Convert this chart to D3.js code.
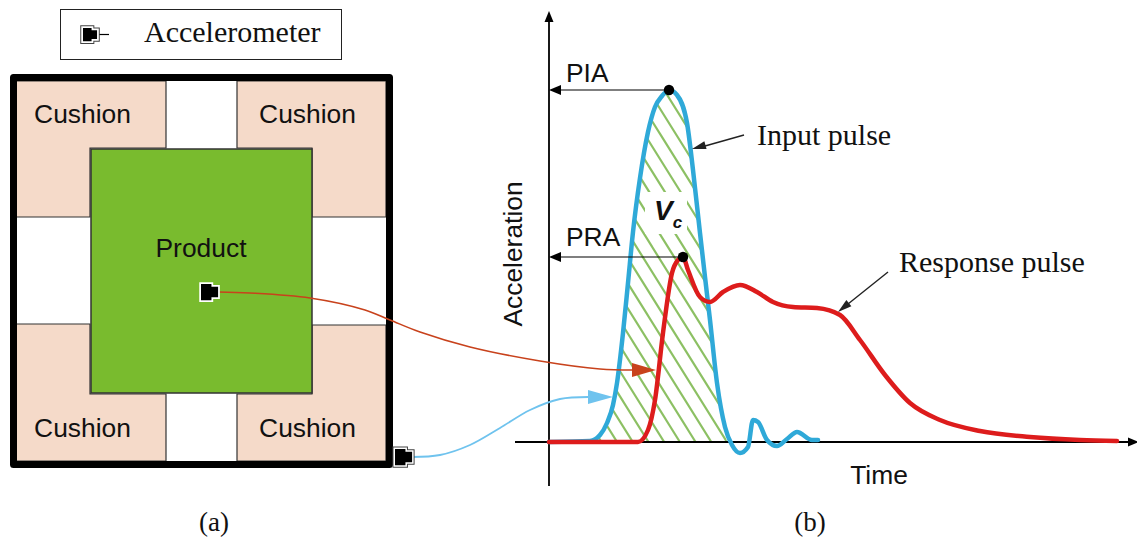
<!DOCTYPE html>
<html>
<head>
<meta charset="utf-8">
<script src="https://cdn.jsdelivr.net/npm/d3@7"></script>
<style>
  html, body { margin: 0; padding: 0; background: #fff; }
  svg { display: block; }
</style>
</head>
<body>
<div id="chart"></div>
<script>
// pulse curves (arbitrary units)
var inputTime = [0, 41, 51, 58, 64, 68, 74, 79, 84, 91, 99, 106, 113, 120, 128, 138, 144, 151, 156, 161, 168, 176, 183, 191, 199, 204, 209, 218, 228, 238, 248, 263, 269];
var inputAccel = [0, 1, 7, 19, 37, 59, 109, 159, 210, 264, 310, 335, 346, 352, 347, 319, 272, 209, 165, 122, 59, 15, -3, -11, -5, 22, 20, 2, -4, 3, 10, 2, 2];
var responseTime = [0, 89, 99, 106, 114, 123, 129, 134, 139, 151, 161, 174, 191, 208, 224, 244, 268, 291, 311, 336, 361, 391, 431, 481, 531, 568];
var responseAccel = [0, 0, 12, 42, 109, 169, 182, 185, 172, 145, 140, 150, 157, 150, 140, 135, 134, 127, 102, 67, 39, 22, 11, 5, 2, 1];

var peakInput = [120, 352];
var peakResponse = [134, 185];

var cushionLabels = ["Cushion", "Cushion", "Cushion", "Cushion"];

var width = 1137, height = 540;
var sans = "'Liberation Sans', Arial, sans-serif";
var serif = "'Liberation Serif', 'Times New Roman', serif";

var svg = d3.select("#chart").append("svg")
    .attr("width", width)
    .attr("height", height)
    .style("font-family", sans);

// scales for panel (b)
var x = d3.scaleLinear().domain([0, 568]).range([549, 1117]);
var y = d3.scaleLinear().domain([0, 352]).range([442, 90]);

var lineGen = d3.line()
    .x(function (d) { return x(d[0]); })
    .y(function (d) { return y(d[1]); })
    .curve(d3.curveMonotoneX);

var inputPts = d3.zip(inputTime, inputAccel);
var responsePts = d3.zip(responseTime, responseAccel);

function arrowHead(g, tipX, tipY, angle, len, wid, color) {
    g.append("path")
        .attr("d", "M0,0L" + (-len) + "," + (-wid / 2) + "L" + (-len) + "," + (wid / 2) + "Z")
        .attr("transform", "translate(" + tipX + "," + tipY + ") rotate(" + angle + ")")
        .attr("fill", color);
}

// accelerometer icon, (px,py) is its top left corner
function sensor(g, px, py, s, halo, outline) {
    var shape = "M0,0H" + (11 * s) + "V" + (3 * s) + "H" + (18 * s) + "V" + (14 * s) + "H" + (11 * s) + "V" + (17 * s) + "H0Z";
    var n = g.append("g").attr("transform", "translate(" + px + "," + py + ")");
    if (outline) {
        n.append("path").attr("d", shape).attr("fill", "none")
            .attr("stroke", "#444").attr("stroke-width", halo + 2).attr("stroke-linejoin", "miter");
    }
    n.append("path").attr("d", shape).attr("fill", "#000")
        .attr("stroke", "#fff").attr("stroke-width", halo).attr("paint-order", "stroke").attr("stroke-linejoin", "miter");
    return n;
}

// ---- legend box
svg.append("rect").attr("x", 60.5).attr("y", 9.5).attr("width", 281).attr("height", 50)
    .attr("fill", "#fff").attr("stroke", "#222").attr("stroke-width", 1);
svg.append("line").attr("x1", 98).attr("x2", 109).attr("y1", 34.5).attr("y2", 34.5)
    .attr("stroke", "#000").attr("stroke-width", 1.2);
sensor(svg, 83, 28, 0.78, 3.5, true);
svg.append("text").attr("x", 144).attr("y", 42)
    .style("font-family", serif).style("font-size", "30px")
    .attr("fill", "#111").text("Accelerometer");

// ---- panel (a): package
var cushions = [
    [[16, 81], [166, 81], [166, 148], [90, 148], [90, 217], [16, 217]],
    [[237, 81], [386, 81], [386, 217], [312, 217], [312, 148], [237, 148]],
    [[16, 324], [90, 324], [90, 394], [166, 394], [166, 461], [16, 461]],
    [[237, 461], [237, 394], [312, 394], [312, 325], [386, 325], [386, 461]]
];
var cushionText = [[82.5, 123], [307.5, 123], [82.5, 437], [307.5, 437]];

svg.selectAll(".cushion").data(cushions).enter().append("polygon")
    .attr("class", "cushion")
    .attr("points", function (d) { return d.join(" "); })
    .attr("fill", "#f5dac9")
    .attr("stroke", "#333")
    .attr("stroke-width", 1.2);

svg.append("rect").attr("x", 91).attr("y", 149).attr("width", 221).attr("height", 244)
    .attr("fill", "#79bb2e").attr("stroke", "#333").attr("stroke-width", 1.5);

svg.selectAll(".cushion-label").data(cushionLabels).enter().append("text")
    .attr("class", "cushion-label")
    .attr("x", function (d, i) { return cushionText[i][0]; })
    .attr("y", function (d, i) { return cushionText[i][1]; })
    .attr("text-anchor", "middle")
    .style("font-size", "26.4px").attr("fill", "#111")
    .text(function (d) { return d; });

svg.append("text").attr("x", 201).attr("y", 257).attr("text-anchor", "middle")
    .style("font-size", "26.4px").attr("fill", "#111").text("Product");

// outer frame
svg.append("rect").attr("x", 13.5).attr("y", 77.5).attr("width", 376).attr("height", 387)
    .attr("fill", "none").attr("stroke", "#000").attr("stroke-width", 7).attr("stroke-linejoin", "round");

// ---- hatched area under the input pulse
var underPulse = inputPts.slice(1, 22);
svg.append("clipPath").attr("id", "pulse-clip").append("path")
    .attr("d", lineGen(underPulse) + "L" + x(178) + "," + y(0) + "L" + x(41) + "," + y(0) + "Z");

var hatchOffsets = d3.range(-12, 12);
svg.append("g").attr("clip-path", "url(#pulse-clip)")
    .selectAll("line").data(hatchOffsets).enter().append("line")
    .attr("x1", function (k) { return 727 - 15.7 * k; })
    .attr("y1", 442)
    .attr("x2", function (k) { return 727 - 15.7 * k - 220; })
    .attr("y2", 90)
    .attr("stroke", "#8cc063")
    .attr("stroke-width", 2.2);

// white patch behind Vc
svg.append("rect").attr("x", 645).attr("y", 192).attr("width", 42).attr("height", 42).attr("fill", "#fff");

// ---- axes
svg.append("line").attr("x1", 549).attr("x2", 549).attr("y1", 18).attr("y2", 486)
    .attr("stroke", "#000").attr("stroke-width", 1.8);
arrowHead(svg, 549, 11, -90, 11, 9, "#000");
svg.append("line").attr("x1", 515).attr("x2", 1130).attr("y1", 442).attr("y2", 442)
    .attr("stroke", "#000").attr("stroke-width", 1.8);
arrowHead(svg, 1139, 442, 0, 11, 9, "#000");

// ---- pulses
svg.append("path").attr("d", lineGen(inputPts))
    .attr("fill", "none").attr("stroke", "#2fa9d8").attr("stroke-width", 4.5).attr("stroke-linecap", "round");
svg.append("path").attr("d", lineGen(responsePts))
    .attr("fill", "none").attr("stroke", "#dd1c1c").attr("stroke-width", 4.5).attr("stroke-linecap", "round");

// ---- peak markers and their arrows
[peakInput, peakResponse].forEach(function (p) {
    svg.append("line").attr("x1", x(p[0])).attr("x2", 559).attr("y1", y(p[1])).attr("y2", y(p[1]))
        .attr("stroke", "#000").attr("stroke-width", 1.2);
    arrowHead(svg, 549, y(p[1]), 180, 12, 10, "#000");
    svg.append("circle").attr("cx", x(p[0])).attr("cy", y(p[1])).attr("r", 5.2).attr("fill", "#000");
});

// ---- connectors from the sensors to the curves
var curve = d3.line().curve(d3.curveCatmullRom.alpha(0.5));
var redWire = [[218, 292], [250, 293], [310, 298], [365, 310], [390, 320], [420, 332], [470, 347], [540, 361], [600, 369], [634, 370]];
var blueWire = [[412, 457], [440, 455], [470, 445], [500, 428], [530, 410], [560, 399], [590, 397]];

svg.append("path").attr("d", curve(redWire)).attr("fill", "none").attr("stroke", "#c8421c").attr("stroke-width", 1.6);
arrowHead(svg, 656, 370, 0, 24, 14, "#c8421c");
svg.append("path").attr("d", curve(blueWire)).attr("fill", "none").attr("stroke", "#6fc3ee").attr("stroke-width", 1.8);
arrowHead(svg, 613, 397, 0, 25, 14, "#6fc3ee");

sensor(svg, 201, 284, 0.95, 3.5, false);
sensor(svg, 395, 449, 0.95, 3, true);

// ---- leader lines
svg.append("line").attr("x1", 744).attr("y1", 135).attr("x2", 705).attr("y2", 146)
    .attr("stroke", "#222").attr("stroke-width", 1.4);
arrowHead(svg, 692, 149, 164, 14, 8, "#222");
svg.append("line").attr("x1", 888).attr("y1", 272).attr("x2", 848).attr("y2", 304)
    .attr("stroke", "#222").attr("stroke-width", 1.4);
arrowHead(svg, 838, 312, 141, 14, 8, "#222");

// ---- text
function label(tx, ty, str, font, size, anchor) {
    return svg.append("text").attr("x", tx).attr("y", ty)
        .attr("text-anchor", anchor || "start")
        .style("font-family", font).style("font-size", size + "px")
        .attr("fill", "#111").text(str);
}
label(566, 82, "PIA", sans, 26.4);
label(566, 246, "PRA", sans, 26.4);
label(757, 145, "Input pulse", serif, 30);
label(899, 272, "Response pulse", serif, 30);
label(879, 484, "Time", sans, 26.4, "middle");
label(214, 531, "(a)", serif, 27, "middle");
label(810, 531, "(b)", serif, 27, "middle");
svg.append("text").attr("transform", "translate(522,254) rotate(-90)")
    .attr("text-anchor", "middle").style("font-size", "26.4px").attr("fill", "#111").text("Acceleration");

// V with subscript c, one text element
var vc = svg.append("text").attr("x", 654).attr("y", 220)
    .style("font-weight", "bold").style("font-style", "italic").attr("fill", "#111");
vc.append("tspan").style("font-size", "28px").text("V");
vc.append("tspan").attr("dy", 8).style("font-size", "17px").text("c");
</script>
</body>
</html>
